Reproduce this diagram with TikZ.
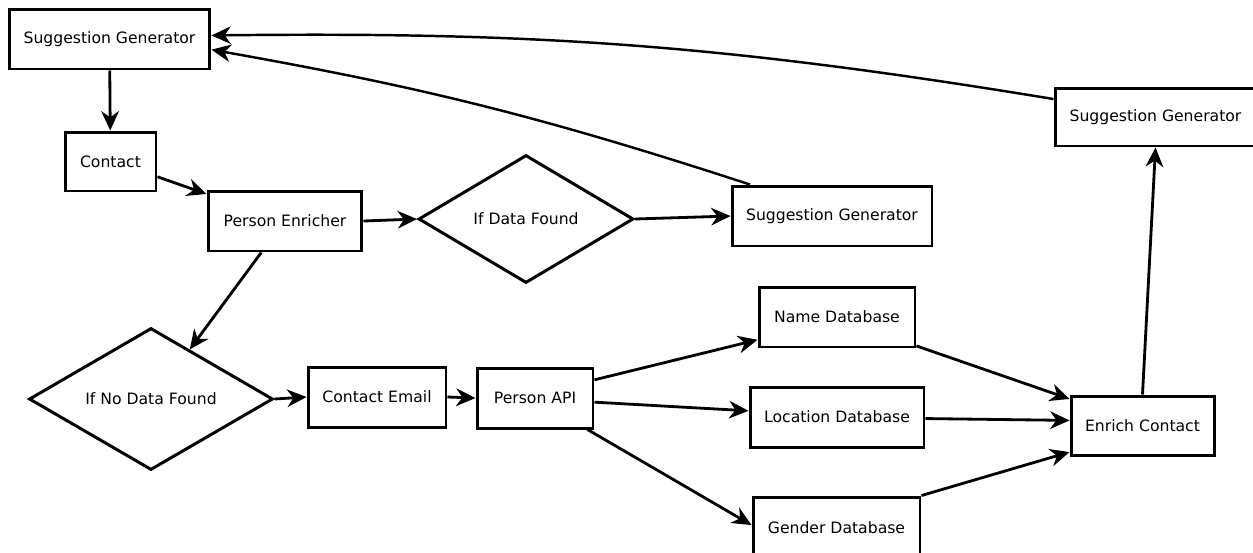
\documentclass[tikz,border=0pt]{standalone}
\usepackage{fontspec}
\setmainfont{DejaVu Sans}
\usetikzlibrary{arrows.meta, shapes.geometric}

\tikzset{
  Box/.style={draw, line width=1.7pt, inner sep=0pt, font=\fontsize{8.9}{10}\selectfont},
  Choice/.style={Box, diamond, aspect=1.7},
  EdgeStyle/.style={-{Stealth[length=11pt,width=10pt,inset=3.5pt]}, line width=1.6pt}
}

\begin{document}
\begin{tikzpicture}[x=0.02cm, y=-0.02cm]
  \useasboundingbox (0,0) rectangle (1253,552);

  % upper chain
  \node[Box, minimum width=4.02cm, minimum height=1.2cm] (sgTop) at (109.5,39) {Suggestion Generator};
  \node[Box, minimum width=1.82cm, minimum height=1.18cm] (contact) at (110.5,161.5) {Contact};
  \node[Box, minimum width=3.08cm, minimum height=1.2cm] (enricher) at (285,221) {Person Enricher};
  \node[Choice, minimum width=4.3cm, minimum height=2.56cm] (dataFound) at (526,219) {If Data Found};
  \node[Box, minimum width=4.0cm, minimum height=1.2cm] (sgMid) at (832,216) {Suggestion Generator};
  \node[Box, minimum width=4.02cm, minimum height=1.16cm] (sgRight) at (1155.5,117) {Suggestion Generator};

  % lower chain
  \node[Choice, minimum width=4.88cm, minimum height=2.84cm] (noData) at (151,399) {If No Data Found};
  \node[Box, minimum width=2.76cm, minimum height=1.2cm] (email) at (377,397) {Contact Email};
  \node[Box, minimum width=2.32cm, minimum height=1.2cm] (api) at (535,398) {Person API};
  \node[Box, minimum width=3.12cm, minimum height=1.2cm] (nameDb) at (837,317) {Name Database};
  \node[Box, minimum width=3.48cm, minimum height=1.2cm] (locDb) at (837,417) {Location Database};
  \node[Box, minimum width=3.34cm, minimum height=1.24cm] (genderDb) at (836.5,528) {Gender Database};
  \node[Box, minimum width=2.86cm, minimum height=1.18cm] (enrich) at (1142.5,425.5) {Enrich Contact};

  \draw[EdgeStyle] (sgTop) -- (contact);
  \draw[EdgeStyle] (contact.-18) -- (enricher.161);
  \draw[EdgeStyle] (enricher.east) -- (dataFound.west);
  \draw[EdgeStyle] (dataFound.east) -- (sgMid.west);
  \draw[EdgeStyle, line width=1.4pt] (sgMid.159) to[bend right=4] (sgTop.-6);
  \draw[EdgeStyle, line width=1.4pt] (sgRight.170) to[bend right=5] (sgTop.2);

  \draw[EdgeStyle] (enricher.233) -- (noData.52);
  \draw[EdgeStyle] (noData.east) -- (email.west);
  \draw[EdgeStyle] (email.east) -- (api.west);
  \draw[EdgeStyle] (api.17) -- (nameDb.196);
  \draw[EdgeStyle] (api.-4) -- (locDb.176);
  \draw[EdgeStyle] (api.-31) -- (genderDb.178);
  \draw[EdgeStyle] (nameDb.-20) -- (enrich.160);
  \draw[EdgeStyle] (locDb.-1) -- (enrich.176);
  \draw[EdgeStyle] (genderDb.north east) -- (enrich.200);
  \draw[EdgeStyle] (enrich.north) -- (sgRight.south);
\end{tikzpicture}
\end{document}
